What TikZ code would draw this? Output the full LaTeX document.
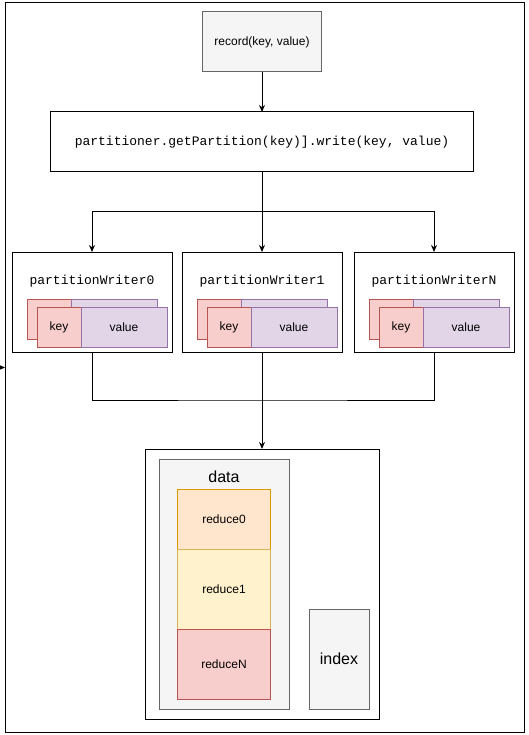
\documentclass[tikz,border=0pt]{standalone}
\usepackage{fontspec}
\setmainfont{Liberation Sans}
\newfontfamily\codefont{Liberation Mono}
\usetikzlibrary{arrows.meta, positioning}
\definecolor{boxgray}{HTML}{F5F5F5}
\definecolor{edgegray}{HTML}{666666}
\definecolor{keyfill}{HTML}{F8CECC}
\definecolor{keyline}{HTML}{B85450}
\definecolor{valfill}{HTML}{E1D5E7}
\definecolor{valline}{HTML}{9673A6}
\definecolor{orangefill}{HTML}{FFE6CC}
\definecolor{orangeline}{HTML}{D79B00}
\definecolor{yellowfill}{HTML}{FFF2CC}
\definecolor{yellowline}{HTML}{D6B656}

\begin{document}
\begin{tikzpicture}[
    x=1pt, y=-1pt,
    block/.style={rectangle, draw, line width=1pt, inner sep=0pt, outer sep=0pt, align=center, font=\fontsize{12}{14}\selectfont},
    graybox/.style={block, draw=edgegray, fill=boxgray},
    writer/.style={block, fill=white, minimum width=160pt, minimum height=100pt},
    code/.style={font=\codefont\fontsize{13}{15}\selectfont, inner sep=0pt},
    keybox/.style={block, line width=0.8pt, draw=keyline, fill=keyfill, minimum width=44pt, minimum height=40pt},
    valbox/.style={block, line width=0.8pt, draw=valline, fill=valfill, minimum width=86pt, minimum height=40pt},
    reducebox/.style={block, line width=0.8pt, minimum width=93pt},
    arrow/.style={-{Stealth[length=7pt, width=6pt]}, line width=1pt},
    link/.style={line width=1pt}
]
    \useasboundingbox (0,0) rectangle (528,735);
    \node[block, minimum width=519pt, minimum height=729pt] (frame) at (264.5,367.5) {};

    \node[graybox, minimum width=119pt, minimum height=60pt] (rec) at (262,42) {record(key, value)};
    \node[block, minimum width=423pt, minimum height=60pt, below=40pt of rec, font=\codefont\fontsize{13}{15}\selectfont] (part) {partitioner.getPartition(key)].write(key, value)};

    \node[writer, below=80pt of part] (w1) {};
    \node[writer, left=10pt of w1] (w0) {};
    \node[writer, right=12pt of w1] (wN) {};

    % key / value pairs inside each writer
    \foreach \w/\n in {w0/0, w1/1, wN/N} {
        \node[code] (\w title) at ([yshift=-29pt]\w.north) {partitionWriter\n};
        \node[keybox, anchor=north west] (\w backkey) at ([xshift=15pt, yshift=-47pt]\w.north west) {};
        \node[valbox, anchor=west] (\w backval) at (\w backkey.east) {};
        \node[keybox, anchor=north west] (\w key) at ([xshift=25pt, yshift=-55pt]\w.north west) {key};
        \node[valbox, anchor=west] (\w val) at (\w key.east) {value};
    }

    \node[block, fill=white, minimum width=234pt, minimum height=270pt, below=97pt of w1] (store) {};
    \node[graybox, minimum width=130pt, minimum height=250pt, anchor=north west] (data) at ([xshift=14pt, yshift=-10pt]store.north west) {};
    \node[font=\fontsize{16}{18}\selectfont, inner sep=0pt] (datalabel) at ([yshift=-18pt]data.north) {data};
    \node[reducebox, draw=orangeline, fill=orangefill, minimum height=60pt, anchor=north] (r0) at ([yshift=-30pt]data.north) {reduce0};
    \node[reducebox, draw=yellowline, fill=yellowfill, minimum height=80pt, below=0pt of r0] (r1) {reduce1};
    \node[reducebox, draw=keyline, fill=keyfill, minimum height=70pt, below=0pt of r1] (rN) {reduceN};
    \node[graybox, minimum width=60pt, minimum height=100pt, anchor=south east, font=\fontsize{16}{18}\selectfont] (index) at ([xshift=-10pt, yshift=10pt]store.south east) {index};

    \draw[arrow] (rec) -- (part);
    \coordinate (split) at ([yshift=-40pt]part.south);
    \draw[link] (part.south) -- (split);
    \draw[arrow] (split) -| (w0.north);
    \draw[arrow] (split) -| (wN.north);
    \draw[arrow] (split) -- (w1.north);

    \coordinate (merge) at ([yshift=-48pt]w1.south);
    \draw[link] (w0.south) |- (merge) -| (wN.south);
    \draw[arrow] (w1.south) -- (store.north -| w1.south);

    \coordinate (stub) at (-12,367.5);
    \draw[arrow] (stub) -- (frame.west);
\end{tikzpicture}
\end{document}
